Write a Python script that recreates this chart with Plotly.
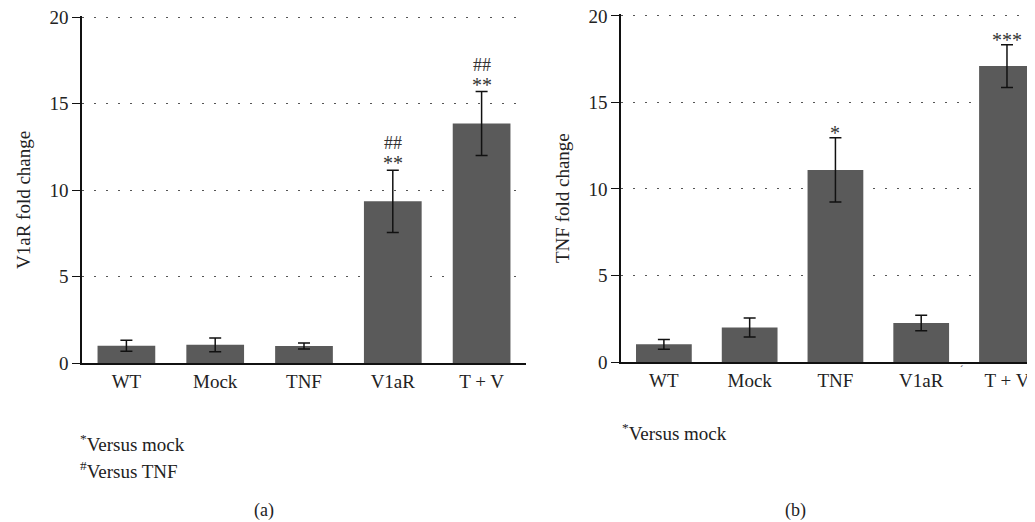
import plotly.graph_objects as go

categories = ["WT", "Mock", "TNF", "V1aR", "T + V"]
v1ar_mean = [1.0, 1.05, 0.98, 9.35, 13.85]
v1ar_err = [0.32, 0.40, 0.17, 1.80, 1.85]
tnf_mean = [1.02, 2.0, 11.1, 2.25, 17.1]
tnf_err = [0.28, 0.55, 1.86, 0.45, 1.23]
v1ar_marks = ["", "", "", "**", "**"]
v1ar_marks2 = ["", "", "", "##", "##"]
tnf_marks = ["", "", "*", "", "***"]
y_ticks = [0, 5, 10, 15, 20]

W, H = 1035, 522
OFF = 8  # page body margin
FONT = "Liberation Serif"
BAR = "#5a5a5a"
xs = list(range(len(categories)))

fig = go.Figure()
fig.add_trace(go.Bar(x=xs, y=v1ar_mean, width=0.65, marker_color=BAR,
                     marker_line_width=0,
                     error_y=dict(type="data", array=v1ar_err, color="#111",
                                  thickness=1.5, width=6),
                     xaxis="x", yaxis="y", showlegend=False))
fig.add_trace(go.Bar(x=xs, y=tnf_mean, width=0.65, marker_color=BAR,
                     marker_line_width=0,
                     error_y=dict(type="data", array=tnf_err, color="#111",
                                  thickness=1.5, width=6),
                     xaxis="x2", yaxis="y2", showlegend=False))

def px_x(p):
    return min(1.0, max(0.0, (p - OFF) / W))

def px_y(p):
    return min(1.0, max(0.0, 1 - (p - OFF) / H))

YMAX = 20.1
yax = dict(range=[0, YMAX], tickvals=y_ticks, ticks="outside", ticklen=8,
           tickcolor="#111", tickwidth=1.2, showline=True, linecolor="#111",
           linewidth=1.5, showgrid=True, gridcolor="#555", gridwidth=1.3,
           griddash="1.5px,10.5px", zeroline=False, ticklabeloverflow="allow",
           tickfont=dict(family=FONT, size=19, color="#222"))
xax = dict(tickvals=xs, ticktext=categories, ticks="", showline=True,
           linecolor="#111", linewidth=1.8, showgrid=False, zeroline=False,
           ticklabeloverflow="allow",
           tickfont=dict(family=FONT, size=19, color="#222"))

fig.update_layout(
    width=W, height=H, margin=dict(l=0, r=0, t=0, b=0, autoexpand=False),
    plot_bgcolor="white", paper_bgcolor="white", bargap=0.35,
    xaxis=dict(xax, domain=[px_x(82), px_x(526)], range=[-0.5, 4.5], anchor="y"),
    yaxis=dict(yax, anchor="x", domain=[px_y(363), px_y(15.5)]),
    xaxis2=dict(xax, domain=[px_x(621), 1.0], range=[-0.5, 4.42], anchor="y2"),
    yaxis2=dict(yax, anchor="x2", domain=[px_y(362), px_y(14.2)]),
)

ann = []
for i in xs:
    top = v1ar_mean[i] + v1ar_err[i]
    if v1ar_marks[i]:
        ann.append(dict(x=i, y=top, xref="x", yref="y", text=v1ar_marks[i],
                        showarrow=False, yanchor="middle", yshift=7,
                        font=dict(family=FONT, size=20, color="#333")))
    if v1ar_marks2[i]:
        ann.append(dict(x=i, y=top, xref="x", yref="y", text=v1ar_marks2[i],
                        showarrow=False, yanchor="middle", yshift=27,
                        font=dict(family=FONT, size=18, color="#333")))
    top2 = tnf_mean[i] + tnf_err[i]
    if tnf_marks[i]:
        ann.append(dict(x=i, y=top2, xref="x2", yref="y2", text=tnf_marks[i],
                        showarrow=False, yanchor="middle", yshift=5,
                        font=dict(family=FONT, size=20, color="#333")))

def note(x, y, text, size=19, anchor="left", angle=0):
    return dict(x=px_x(x), y=px_y(y), xref="paper", yref="paper", text=text,
                showarrow=False, xanchor=anchor, yanchor="middle",
                textangle=angle, font=dict(family=FONT, size=size, color="#222"))

ann += [
    note(23, 200, "V1aR fold change", anchor="center", angle=-90),
    note(563, 198, "TNF fold change", anchor="center", angle=-90),
    note(78, 443, "<sup>*</sup>Versus mock"),
    note(78, 470, "<sup>#</sup>Versus TNF"),
    note(620, 432, "<sup>*</sup>Versus mock"),
    note(264, 510, "(a)", size=18, anchor="center"),
    note(795, 510, "(b)", size=18, anchor="center"),
    note(961, 369, "ˊ", size=10, anchor="center"),
]
fig.update_layout(annotations=ann)

fig.write_html("out.html")
